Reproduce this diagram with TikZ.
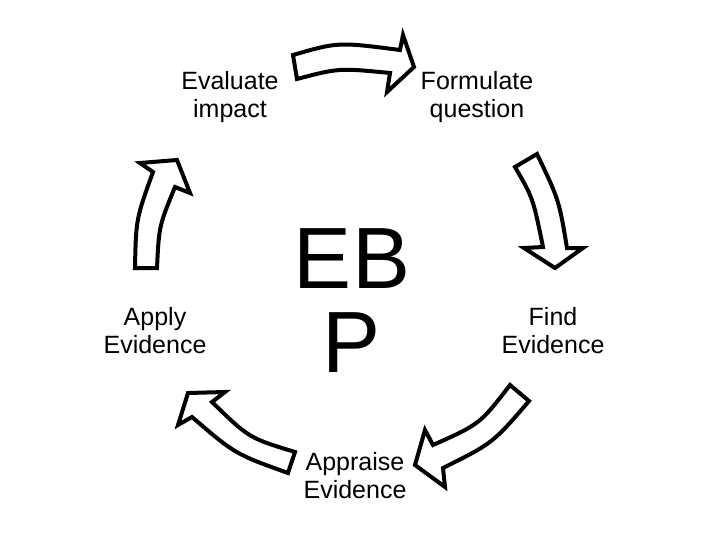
\documentclass[tikz,border=0pt]{standalone}
\usepackage{fontspec}
\setmainfont{Liberation Sans}
\usepackage{tikz}

\begin{document}
\begin{tikzpicture}[
    x=1pt, y=-1pt,
    step label/.style={align=center, inner sep=0pt, font={\fontsize{25}{28}\selectfont}},
    blockarrow/.style={draw=black, line width=4pt, fill=white, line join=miter}
]
\useasboundingbox (0,0) rectangle (720,540);

% Nodes
\node (ebp) [align=center, inner sep=0pt, font={\fontsize{87}{84}\selectfont}] at (352,301) {EB\\P};

\node (evaluate) [step label] at (230,97) {Evaluate\\impact};
\node (formulate) [step label] at (477,97) {Formulate\\question};
\node (find) [step label] at (553,331) {Find\\Evidence};
\node (appraise) [step label] at (355,476) {Appraise\\Evidence};
\node (apply) [step label] at (155,331) {Apply\\Evidence};

% Block arrows round the cycle
% evaluate -> formulate
\draw [blockarrow] (293,55) .. controls (338,42) .. (400,50)
    -- (403,35) -- (414,67) -- (387,92) -- (390,73)
    .. controls (339,68) .. (297,79) -- cycle;

% formulate -> find
\draw [blockarrow] (537,154) .. controls (559,200) .. (567,248)
    -- (583,248) -- (555,268) -- (524,248) -- (543,247)
    .. controls (533,198) .. (515,167) -- cycle;

% find -> appraise
\draw [blockarrow] (529,401) .. controls (493,443) .. (443,468)
    -- (445,487) -- (415,465) -- (425,430) -- (433,445)
    .. controls (480,424) .. (510,385) -- cycle;

% appraise -> apply
\draw [blockarrow] (295,452) .. controls (249,438) .. (212,402)
    -- (225,392) -- (188,393) -- (178,425) -- (192,417)
    .. controls (235,454) .. (288,473) -- cycle;

% apply -> evaluate
\draw [blockarrow] (135,268) .. controls (136,219) .. (153,172)
    -- (140,163) -- (177,160) -- (190,193) -- (175,187)
    .. controls (159,226) .. (157,268) -- cycle;

\end{tikzpicture}
\end{document}
